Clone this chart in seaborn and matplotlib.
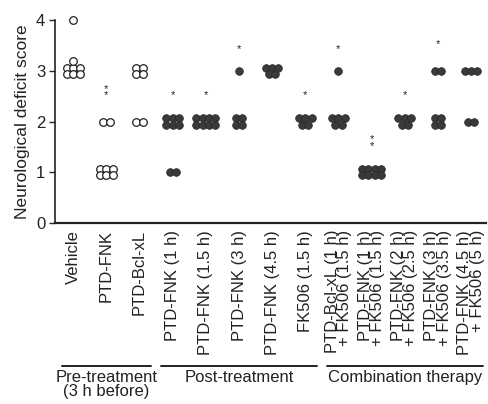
import numpy as np
import pandas as pd
import matplotlib
matplotlib.use("Agg")
import matplotlib.pyplot as plt
import matplotlib.transforms as mtransforms
import seaborn as sns

# --- data ---
groups = [
    "Vehicle",
    "PTD-FNK",
    "PTD-Bcl-xL",
    "PTD-FNK (1 h)",
    "PTD-FNK (1.5 h)",
    "PTD-FNK (3 h)",
    "PTD-FNK (4.5 h)",
    "FK506 (1.5 h)",
    "PTD-Bcl-xL (1 h)\n+ FK506 (1.5 h)",
    "PTD-FNK (1 h)\n+ FK506 (1.5 h)",
    "PTD-FNK (2 h)\n+ FK506 (2.5 h)",
    "PTD-FNK (3 h)\n+ FK506 (3.5 h)",
    "PTD-FNK (4.5 h)\n+ FK506 (5 h)",
]
scores = [
    [4, 3, 3, 3, 3, 3, 3, 3],
    [2, 2, 1, 1, 1, 1, 1, 1],
    [3, 3, 3, 3, 2, 2],
    [2, 2, 2, 2, 2, 2, 1, 1],
    [2, 2, 2, 2, 2, 2, 2, 2],
    [3, 2, 2, 2, 2],
    [3, 3, 3, 3, 3],
    [2, 2, 2, 2, 2],
    [3, 2, 2, 2, 2, 2],
    [1, 1, 1, 1, 1, 1, 1, 1],
    [2, 2, 2, 2, 2],
    [3, 3, 2, 2, 2, 2],
    [3, 3, 3, 2, 2],
]
stars = [0, 2, 0, 1, 1, 1, 0, 1, 1, 2, 1, 1, 0]
open_groups = ["Vehicle", "PTD-FNK", "PTD-Bcl-xL"]
brackets = [
    ("Pre-treatment\n(3 h before)", 0, 2),
    ("Post-treatment", 3, 7),
    ("Combination therapy", 8, 12),
]


def cluster(n, dx=0.19, dy=0.125):
    # tied points drawn as a small grid, as in the original figure
    if n == 1:
        return [(0.0, 0.0)]
    cols = 4 if n >= 8 else (2 if n == 4 else min(n, 3))
    rows = [cols] * (n // cols)
    rest = n % cols
    lone = rest == 1
    if rest > 1:
        rows.append(rest)          # partial row underneath
    nr = len(rows)
    out = []
    for r, k in enumerate(rows):
        oy = ((nr - 1) / 2 - r) * dy
        for c in range(k):
            out.append(((c - (k - 1) / 2) * dx, oy))
    if lone:
        out.append((0.0, ((nr - 1) / 2 + 1) * dy))   # single point on top
    return out


recs = []
for i, (g, vals) in enumerate(zip(groups, scores)):
    for v in sorted(set(vals), reverse=True):
        for ox, oy in cluster(vals.count(v)):
            recs.append({"group": g, "score": v, "x": i + ox, "y": v + oy,
                         "kind": "open" if g in open_groups else "filled"})
df = pd.DataFrame(recs)

sns.set_theme(style="ticks")
plt.rcParams["font.family"] = ["Liberation Sans", "DejaVu Sans"]

fig = plt.figure(figsize=(4.88, 4.04), dpi=100)
ax = fig.add_axes([55 / 488, 181 / 404, 431 / 488, 203 / 404])

sns.scatterplot(data=df[df.kind == "open"], x="x", y="y", ax=ax,
                s=30, color="white", edgecolor="#222222", linewidth=0.9,
                clip_on=False, zorder=3, legend=False)
sns.scatterplot(data=df[df.kind == "filled"], x="x", y="y", ax=ax,
                s=30, color="#3a3a3a", edgecolor="#2a2a2a", linewidth=0.6,
                clip_on=False, zorder=3, legend=False)

# significance stars
for i, vals in enumerate(scores):
    if not stars[i]:
        continue
    top = max(vals)
    base = top + (0.42 if vals.count(top) > 1 else 0.33)
    ax.text(i, base, "\n".join(["*"] * stars[i]), ha="center", va="bottom",
            fontsize=8, linespacing=0.55, color="#222222")

ax.set_xlim(-0.55, 12.45)
ax.set_ylim(0, 4)
ax.set_yticks([0, 1, 2, 3, 4])
ax.set_xticks(range(len(groups)))
ax.set_xticklabels(groups, rotation=90, fontsize=12, linespacing=0.78,
                   multialignment="right", color="#222222")
ax.tick_params(axis="x", length=0, pad=5)
ax.tick_params(axis="y", length=4, width=1, labelsize=12, pad=3,
               labelcolor="#222222")
ax.set_xlabel("")
ax.set_ylabel("Neurological deficit score", fontsize=12.5, color="#222222",
              labelpad=4)
sns.despine(ax=ax)
ax.spines["left"].set_linewidth(1.2)
ax.spines["bottom"].set_linewidth(1.6)
ax.spines["left"].set_color("#222222")
ax.spines["bottom"].set_color("#222222")

# group brackets under the labels
trans = mtransforms.blended_transform_factory(ax.transData, fig.transFigure)
for label, a, b in brackets:
    ax.plot([a - 0.35, b + 0.35], [0.094, 0.094], transform=trans,
            color="#222222", lw=1.4, clip_on=False)
    ax.text((a + b) / 2, 0.084, label, transform=trans, ha="center",
            va="top", fontsize=12, linespacing=0.9, color="#222222")

fig.savefig("out.png", dpi=100)
